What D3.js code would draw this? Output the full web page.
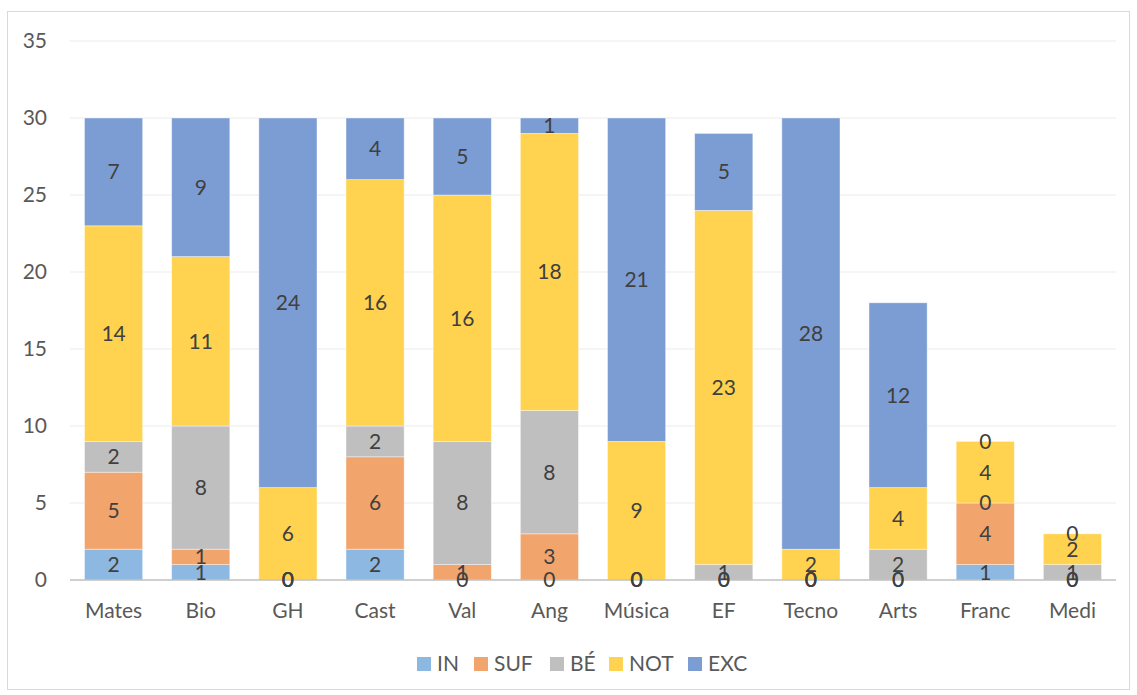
<!DOCTYPE html>
<html>
<head>
<meta charset="utf-8">
<script src="https://cdn.jsdelivr.net/npm/d3@7"></script>
<style>
  body { margin: 0; background: #fff; }
  text { font-family: Lato, "Open Sans", sans-serif; }
</style>
</head>
<body>
<script>
const width = 1137;
const height = 695;

// data
const subjects = ['Mates','Bio','GH','Cast','Val','Ang','Música','EF','Tecno','Arts','Franc','Medi'];
const grades = ['IN','SUF','BÉ','NOT','EXC'];
const IN  = [2, 1, 0, 2, 0, 0, 0, 0, 0, 0, 1, 0];
const SUF = [5, 1, 0, 6, 1, 3, 0, 0, 0, 0, 4, 0];
const BE  = [2, 8, 0, 2, 8, 8, 0, 1, 0, 2, 0, 1];
const NOT = [14, 11, 6, 16, 16, 18, 9, 23, 2, 4, 4, 2];
const EXC = [7, 9, 24, 4, 5, 1, 21, 5, 28, 12, 0, 0];
const yTicks = [0, 5, 10, 15, 20, 25, 30, 35];
const colors = ['#8cb8e2', '#f1a46c', '#bfbfbf', '#ffd34f', '#7b9dd4'];

const rows = subjects.map((s, i) => ({
  subject: s, IN: IN[i], SUF: SUF[i], 'BÉ': BE[i], NOT: NOT[i], EXC: EXC[i]
}));

const svg = d3.select('body').append('svg')
  .attr('width', width)
  .attr('height', height);

// chart frame
svg.append('rect')
  .attr('x', 7.5).attr('y', 11.5)
  .attr('width', 1122).attr('height', 678)
  .attr('fill', 'none')
  .attr('stroke', '#d9d9d9');

const x = d3.scaleBand().domain(subjects).range([70, 1116]).paddingInner(0.333).paddingOuter(0.1665);
const y = d3.scaleLinear().domain([0, 35]).range([580, 41]);
const color = d3.scaleOrdinal().domain(grades).range(colors);

// gridlines
svg.append('g').selectAll('line')
  .data(yTicks.filter(t => t > 0))
  .join('line')
  .attr('x1', 70).attr('x2', 1116)
  .attr('y1', d => y(d)).attr('y2', d => y(d))
  .attr('stroke', '#ececec')
  .attr('stroke-width', 1.2);

// y axis labels
svg.append('g').selectAll('text')
  .data(yTicks)
  .join('text')
  .attr('x', 47)
  .attr('y', d => y(d))
  .attr('dy', '0.35em')
  .attr('text-anchor', 'end')
  .attr('fill', '#595959')
  .attr('font-size', 21)
  .text(d => d);

const stacked = d3.stack().keys(grades)(rows);

const layer = svg.append('g').selectAll('g')
  .data(stacked)
  .join('g')
  .attr('fill', d => color(d.key));

layer.selectAll('rect')
  .data(d => d)
  .join('rect')
  .attr('x', d => x(d.data.subject))
  .attr('width', x.bandwidth())
  .attr('y', d => y(d[1]))
  .attr('height', d => y(d[0]) - y(d[1]))
  .attr('stroke', '#ffffff')
  .attr('stroke-opacity', 0.5)
  .attr('stroke-width', 0.8);

// x axis line
svg.append('line')
  .attr('x1', 70).attr('x2', 1116)
  .attr('y1', y(0)).attr('y2', y(0))
  .attr('stroke', '#bfbfbf')
  .attr('stroke-width', 1.5);

// value labels
const labels = svg.append('g');
stacked.forEach(s => {
  labels.selectAll(null)
    .data(s)
    .join('text')
    .attr('x', d => x(d.data.subject) + x.bandwidth() / 2)
    .attr('y', d => y((d[0] + d[1]) / 2))
    .attr('dy', '0.35em')
    .attr('text-anchor', 'middle')
    .attr('fill', '#404040')
    .attr('font-size', 21)
    .text(d => d[1] - d[0]);
});

// category labels
svg.append('g').selectAll('text')
  .data(subjects)
  .join('text')
  .attr('x', d => x(d) + x.bandwidth() / 2)
  .attr('y', 611)
  .attr('dy', '0.35em')
  .attr('text-anchor', 'middle')
  .attr('fill', '#595959')
  .attr('font-size', 21)
  .text(d => d);

// legend
const legendX = [417, 474, 550, 609, 688];
const legend = svg.append('g').selectAll('g')
  .data(grades)
  .join('g')
  .attr('transform', (d, i) => `translate(${legendX[i]},664)`);
legend.append('rect')
  .attr('x', 0).attr('y', -7)
  .attr('width', 14).attr('height', 14)
  .attr('fill', d => color(d));
legend.append('text')
  .attr('x', 20)
  .attr('y', 0)
  .attr('dy', '0.35em')
  .attr('fill', '#595959')
  .attr('font-size', 21)
  .text(d => d);
</script>
</body>
</html>
